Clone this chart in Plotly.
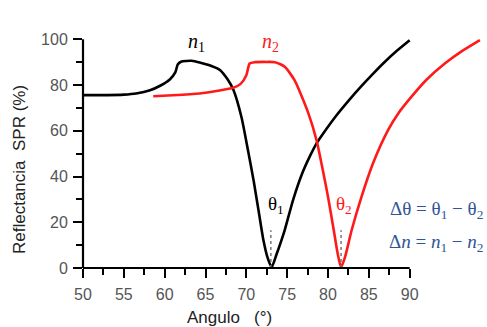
import plotly.graph_objects as go

# --- data ---
angle_n1 = [50, 53, 55, 56.5, 58.2, 59.5, 60.6, 61.3, 61.6, 62.0, 63.3, 64.5, 65.8, 66.8, 67.7,
            68.4, 69.4, 70.2, 70.9, 71.5, 72.1, 72.6, 73.1, 73.7, 74.7, 75.7, 76.8, 77.8, 78.6,
            79.8, 81.0, 82.5, 84.0, 85.5, 87.0, 88.5, 90]
refl_n1 = [75.6, 75.6, 75.8, 76.3, 77.7, 79.8, 82.3, 85.5, 89.0, 90.2, 90.6, 89.6, 88.2, 86.5, 82.5,
           78, 66, 51.5, 38, 25, 12, 4.5, 0.3, 6, 16.6, 29.5, 41, 49, 54.5,
           60.8, 66.6, 73.1, 79.2, 84.9, 90.3, 95.2, 99.6]

angle_n2 = [58.6, 61, 64.3, 66.5, 68.4, 69.3, 70.0, 70.4, 71.0, 72.5, 73.5, 74.7, 75.9,
            77.6, 78.6, 79.2, 80.0, 80.7, 81.2, 81.6, 82.1, 82.9, 84.1, 85.5, 87.35, 88.6,
            90.2, 92.0, 94.3, 96.4, 98.6]
refl_n2 = [75.1, 75.5, 76.3, 77.5, 78.8, 80.5, 84.3, 89.4, 90.0, 90.1, 90.0, 88, 82.1,
           67.6, 55.8, 45.7, 31.1, 16.6, 6, 0.3, 5, 16.6, 31.1, 45.7, 60.3, 67.6,
           74.8, 82.1, 89.4, 94.8, 99.6]

theta_min = [73.0, 81.6]
theta_mark_top = [16.5, 16.5]

x_ticks = [50, 55, 60, 65, 70, 75, 80, 85, 90]
x_minor = [52.5, 57.5, 62.5, 67.5, 72.5, 77.5, 82.5, 87.5]
y_ticks = [0, 20, 40, 60, 80, 100]
y_minor = [10, 30, 50, 70, 90]

fig = go.Figure()
fig.add_trace(go.Scatter(x=angle_n1, y=refl_n1, mode="lines",
                         line=dict(color="black", width=2.6, shape="spline", smoothing=0.6),
                         showlegend=False, hoverinfo="skip"))
fig.add_trace(go.Scatter(x=angle_n2, y=refl_n2, mode="lines",
                         line=dict(color="#ff1a1a", width=2.6, shape="spline", smoothing=0.6),
                         showlegend=False, hoverinfo="skip"))
for xm, yt in zip(theta_min, theta_mark_top):
    fig.add_trace(go.Scatter(x=[xm, xm], y=[0, yt], mode="lines",
                             line=dict(color="#777777", width=1.5, dash="dot"),
                             showlegend=False, hoverinfo="skip"))

# axis lines
fig.add_shape(type="line", xref="x", yref="paper", x0=50, x1=90, y0=0, y1=0,
              line=dict(color="black", width=2.2), layer="above")
fig.add_shape(type="line", xref="paper", yref="y", x0=0, x1=0, y0=0, y1=100,
              line=dict(color="black", width=2.2), layer="above")

serif = "Liberation Serif, DejaVu Serif, serif"
ann = [
    dict(x=63.9, y=98.5, text="<i>n</i><sub>1</sub>", font=dict(family=serif, size=20, color="black")),
    dict(x=73.0, y=98.5, text="<i>n</i><sub>2</sub>", font=dict(family=serif, size=20, color="#ff1a1a")),
    dict(x=73.6, y=27.5, text="θ<sub>1</sub>", font=dict(family=serif, size=19, color="black")),
    dict(x=82.0, y=27.5, text="θ<sub>2</sub>", font=dict(family=serif, size=19, color="#ff1a1a")),
]
for a in ann:
    fig.add_annotation(xref="x", yref="y", showarrow=False, **a)

fig.add_annotation(xref="paper", yref="y", x=1.003, xanchor="right", y=25.3, showarrow=False,
                   text="Δθ = θ<sub>1</sub> − θ<sub>2</sub>",
                   font=dict(family=serif, size=19, color="#2f5597"))
fig.add_annotation(xref="paper", yref="y", x=1.003, xanchor="right", y=10.9, showarrow=False,
                   text="Δ<i>n</i> = <i>n</i><sub>1</sub> − <i>n</i><sub>2</sub>",
                   font=dict(family=serif, size=19, color="#2f5597"))

# axis titles
fig.add_annotation(xref="paper", yref="paper", x=(229 - 83) / 401, y=(268 - 317) / 231,
                   xanchor="center", yanchor="middle",
                   showarrow=False, text="Angulo   (°)",
                   font=dict(family="Liberation Sans, Arial, sans-serif", size=17, color="#222"))
fig.add_annotation(xref="paper", yref="paper", x=(20 - 83) / 401, y=(268 - 170) / 231,
                   xanchor="center", yanchor="middle",
                   showarrow=False, text="Reflectancia  SPR (%)", textangle=-90,
                   font=dict(family="Liberation Sans, Arial, sans-serif", size=17, color="#222"))

tickfont = dict(family="Liberation Sans, Arial, sans-serif", size=16, color="#555")
fig.update_xaxes(range=[50, 99.1], showgrid=False, zeroline=False, showline=False,
                 tickvals=x_ticks, ticktext=[str(v) for v in x_ticks],
                 ticks="outside", ticklen=9, tickwidth=2, tickcolor="black",
                 tickfont=tickfont, ticklabelstandoff=3,
                 minor=dict(tickvals=x_minor, ticks="outside", ticklen=6, tickwidth=2,
                            tickcolor="black", showgrid=False))
fig.update_yaxes(range=[0, 101], showgrid=False, zeroline=False, showline=False,
                 tickvals=y_ticks, ticktext=[str(v) for v in y_ticks],
                 ticks="outside", ticklen=9, tickwidth=2, tickcolor="black",
                 tickfont=tickfont, ticklabelstandoff=2,
                 minor=dict(tickvals=y_minor, ticks="outside", ticklen=6, tickwidth=2,
                            tickcolor="black", showgrid=False))

fig.update_layout(width=487, height=327, margin=dict(l=83, r=3, t=37, b=59),
                  plot_bgcolor="white", paper_bgcolor="white")

fig.write_html("out.html")
